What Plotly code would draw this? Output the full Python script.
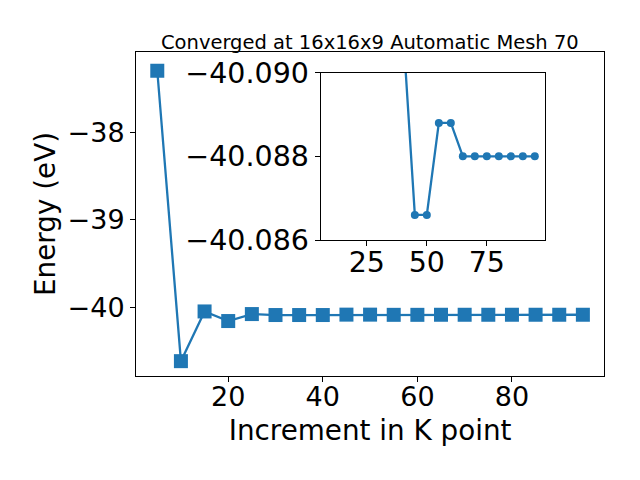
import plotly.graph_objects as go

# Data
kpoints = [5, 10, 15, 20, 25, 30, 35, 40, 45, 50, 55, 60, 65, 70, 75, 80, 85, 90, 95]
energy = [-37.29, -40.62, -40.05, -40.16, -40.08, -40.0912, -40.0912, -40.0911,
          -40.0866, -40.0866, -40.0888, -40.0888, -40.0880, -40.0880, -40.0880,
          -40.0880, -40.0880, -40.0880, -40.0880]
inset_start = 5  # inset shows points from k = 30 onwards

main_yticks = [-38, -39, -40]
main_xticks = [20, 40, 60, 80]
inset_xticks = [25, 50, 75]
inset_yticks = [-40.090, -40.088, -40.086]

title_text = "Converged at 16x16x9 Automatic Mesh 70"
color = "#1f77b4"
font = "DejaVu Sans"

fig = go.Figure()
fig.add_trace(go.Scatter(
    x=kpoints, y=energy, mode="lines+markers",
    line=dict(color=color, width=2.3),
    marker=dict(symbol="square", size=14, color=color, line=dict(width=0)),
    xaxis="x", yaxis="y", showlegend=False,
))
fig.add_trace(go.Scatter(
    x=kpoints[inset_start:], y=energy[inset_start:], mode="lines+markers",
    line=dict(color=color, width=2.3),
    marker=dict(symbol="circle", size=8, color=color, line=dict(width=0)),
    xaxis="x2", yaxis="y2", showlegend=False,
))

axis_common = dict(
    showline=True, linecolor="black", linewidth=1, mirror=True,
    ticks="outside", ticklen=5, tickwidth=1, tickcolor="black",
    showgrid=False, zeroline=False, automargin=False,
)

fig.update_layout(
    width=640, height=480,
    margin=dict(l=0, r=0, t=0, b=0, pad=0),
    paper_bgcolor="white", plot_bgcolor="white",
    font=dict(family=font, color="black"),
    xaxis=dict(
        domain=[0.2125, 0.944], range=[0.5, 99.5], anchor="y",
        tickvals=main_xticks, tickfont=dict(size=27), ticklabelstandoff=-8,
        title=dict(text="Increment in K point", font=dict(size=27.8), standoff=9),
        **axis_common,
    ),
    yaxis=dict(
        domain=[0.2167, 0.8917], range=[-40.79, -37.075], anchor="x",
        tickvals=main_yticks, tickfont=dict(size=27),
        title=dict(text="Energy (eV)", font=dict(size=27.8), standoff=3),
        **axis_common,
    ),
    xaxis2=dict(
        domain=[0.501, 0.8516], range=[5.75, 99.25], anchor="y2",
        tickvals=inset_xticks, tickfont=dict(size=28.5), ticklabelstandoff=-8,
        **axis_common,
    ),
    yaxis2=dict(
        domain=[0.5, 0.8485], range=[-40.086, -40.090], anchor="x2",
        tickvals=inset_yticks, tickformat=".3f", tickfont=dict(size=28.5),
        **axis_common,
    ),
    annotations=[dict(
        text=title_text, x=370 / 640, y=1 - 42 / 480, xref="paper", yref="paper",
        xanchor="center", yanchor="middle", showarrow=False,
        font=dict(size=19.5, family=font),
    )],
)

fig.write_html(
    "out.html",
    config={"displayModeBar": False},
    post_script="document.body.style.margin='0px';document.body.style.overflow='hidden';",
)
